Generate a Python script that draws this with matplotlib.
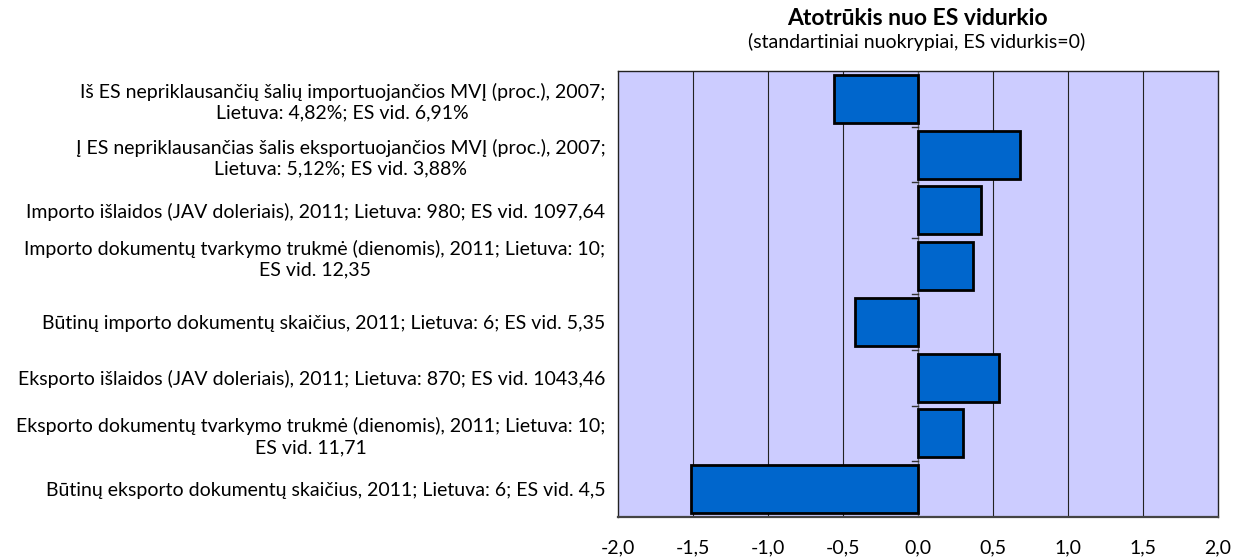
import matplotlib
matplotlib.use('Agg')
import matplotlib.pyplot as plt
import matplotlib.transforms as mtransforms
import numpy as np

# Rodikliai (iš viršaus į apačią)
labels = [
    'Iš ES nepriklausančių šalių importuojančios MVĮ (proc.), 2007;\nLietuva: 4,82%; ES vid. 6,91%',
    'Į ES nepriklausančias šalis eksportuojančios MVĮ (proc.), 2007;\nLietuva: 5,12%; ES vid. 3,88%',
    'Importo išlaidos (JAV doleriais), 2011; Lietuva: 980; ES vid. 1097,64',
    'Importo dokumentų tvarkymo trukmė (dienomis), 2011; Lietuva: 10;\nES vid. 12,35',
    'Būtinų importo dokumentų skaičius, 2011; Lietuva: 6; ES vid. 5,35',
    'Eksporto išlaidos (JAV doleriais), 2011; Lietuva: 870; ES vid. 1043,46',
    'Eksporto dokumentų tvarkymo trukmė (dienomis), 2011; Lietuva: 10;\nES vid. 11,71',
    'Būtinų eksporto dokumentų skaičius, 2011; Lietuva: 6; ES vid. 4,5',
]
values = [-0.56, 0.68, 0.42, 0.37, -0.42, 0.54, 0.30, -1.51]
xticks = [-2.0, -1.5, -1.0, -0.5, 0.0, 0.5, 1.0, 1.5, 2.0]

plt.rcParams['font.family'] = ['Lato', 'DejaVu Sans']

fig = plt.figure(figsize=(12.35, 5.59), dpi=100)
ax = fig.add_axes([0.5004, 0.0751, 0.4858, 0.7979])

y = np.arange(len(labels))
ax.set_facecolor('#CCCCFF')
ax.barh(y, values, height=0.86, color='#0066CC', edgecolor='black', linewidth=2.0, zorder=3)

ax.set_xlim(-2, 2)
ax.set_ylim(len(labels) - 0.5, -0.5)
ax.set_xticks(xticks)
ax.set_xticklabels([f'{t:.1f}'.replace('.', ',') for t in xticks], fontsize=14)
ax.tick_params(axis='x', length=0, pad=16)

ax.set_yticks(y)
ax.set_yticklabels(labels, fontsize=14, multialignment='center', linespacing=1.25)
ax.tick_params(axis='y', length=0, pad=9)

# ketvirtas užrašas originale šiek tiek aukščiau
shift = mtransforms.ScaledTranslation(0, 0.1, fig.dpi_scale_trans)
lab4 = ax.get_yticklabels()[3]
lab4.set_transform(lab4.get_transform() + shift)

# vertikalios tinklelio linijos
for t in xticks[1:-1]:
    if t != 0:
        ax.axvline(t, color='#222222', linewidth=0.8, zorder=1)
ax.axvline(0, color='#666666', linewidth=1.0, zorder=2)
# kategorijų ribų žymės ties nuliu
for b in np.arange(0.5, len(labels) - 0.5, 1.0):
    ax.plot([-0.04, 0], [b, b], color='#333333', linewidth=1.0, zorder=2)

for s in ['left', 'right', 'top']:
    ax.spines[s].set_color('#222222')
    ax.spines[s].set_linewidth(1.0)
ax.spines['bottom'].set_color('#444444')
ax.spines['bottom'].set_linewidth(1.6)

fig.text(0.7425, 0.967, 'Atotrūkis nuo ES vidurkio', ha='center', va='center',
         fontsize=16.5, fontweight='bold')
fig.text(0.7425, 0.925, '(standartiniai nuokrypiai, ES vidurkis=0)', ha='center', va='center',
         fontsize=14)

plt.savefig('out.png', dpi=100)
